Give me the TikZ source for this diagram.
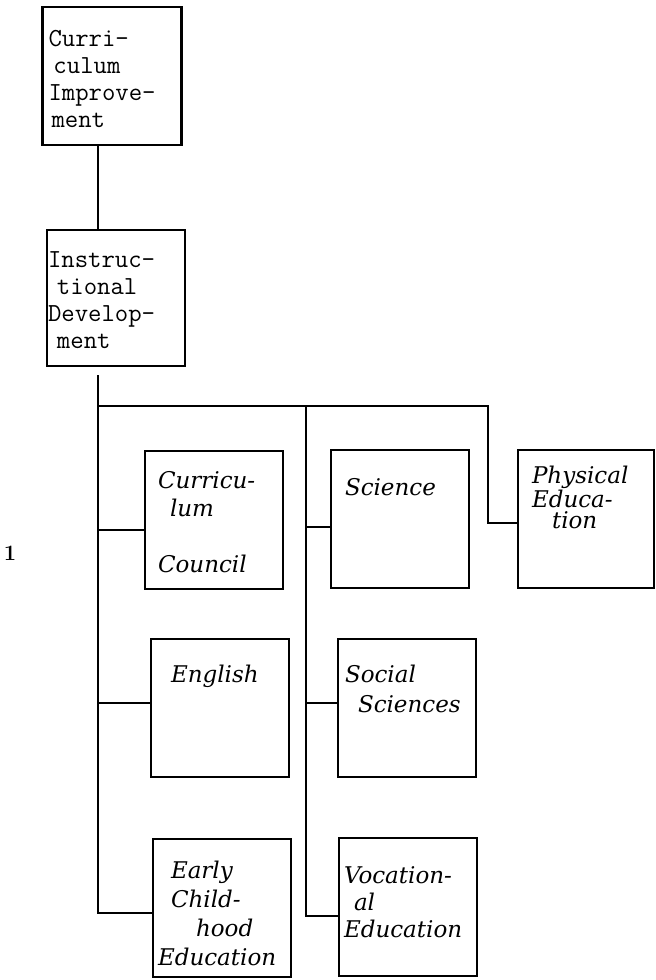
\documentclass[tikz,border=0pt]{standalone}
\usepackage{fontspec}
\usetikzlibrary{positioning}
\newfontfamily\handfont{DejaVu Serif}

\tikzset{
 box/.style={draw,line width=2.4pt,minimum width=138pt,minimum height=138pt,inner sep=0pt},
 type/.style={inner sep=0pt,align=left,font=\fontsize{26}{27}\selectfont\ttfamily},
 hand/.style={inner sep=0pt,align=left,font=\fontsize{23}{28}\selectfont\handfont\itshape},
 link/.style={line width=2.4pt}}

\begin{document}
\begin{tikzpicture}[x=1pt,y=1pt]
 \useasboundingbox (0,0) rectangle (656,-980);
 % trunk points
 \coordinate (t0) at (98,-375);
 \coordinate (t1) at (98,-406);
 \coordinate (t2) at (306,-406);
 \coordinate (t3) at (488,-406);
 % boxes
 \node[box,minimum width=139pt] (ci) at (112,-76) {};
 \node[box,minimum height=136pt] (id) at (116,-298) {};
 \node[box] (cc) at (214,-520) {};
 \node[box] (sci) at (400,-519) {};
 \node[box,minimum width=136pt] (pe) at (586,-519) {};
 \node[box] (eng) at (220,-708) {};
 \node[box] (ss) at (407,-708) {};
 \node[box] (ece) at (222,-908) {};
 \node[box] (voc) at (408,-907) {};
 % texts
 \node[type,below right=24pt and 7pt of ci.north west] (ci-t) {Curri-\\\hspace{5pt}culum\\Improve-\\\hspace{3pt}ment};
 \node[type,below right=23pt and 2pt of id.north west] (id-t) {Instruc-\\\hspace{9pt}tional\\Develop-\\\hspace{9pt}ment};
 \node[hand,below right=21pt and 14pt of cc.north west] (cc-t) {Curricu-\\\hspace{12pt}lum\\[28pt]Council};
 \node[hand,below right=29pt and 15pt of sci.north west] (sci-t) {Science};
 \node[hand,below right=17pt and 15pt of pe.north west,font=\fontsize{23}{21}\selectfont\handfont\itshape] (pe-t) {Physical\\Educa-\\\hspace{20pt}tion};
 \node[hand,below right=27pt and 21pt of eng.north west] (eng-t) {English};
 \node[hand,below right=27pt and 8pt of ss.north west,font=\fontsize{23}{30}\selectfont\handfont\itshape] (ss-t) {Social\\\hspace{13pt}Sciences};
 \node[hand,below right=23pt and 6pt of ece.north west,font=\fontsize{23}{29}\selectfont\handfont\itshape] (ece-t) {\hspace{13pt}Early\\\hspace{13pt}Child-\\\hspace{38pt}hood\\Education};
 \node[hand,below right=30pt and 6pt of voc.north west,font=\fontsize{23}{27}\selectfont\handfont\itshape] (voc-t) {Vocation-\\\hspace{10pt}al\\Education};
 \node[font=\fontsize{22}{22}\selectfont\bfseries] (mark) at (10,-553) {1};
 % connectors
 \draw[link] (ci.south -| t1) -- (id.north -| t1);
 \draw[link] (t0) -- (t1) -- (t3) |- ([yshift=-4pt]pe.west);
 \draw[link] ([yshift=-10pt]cc.west) -| (t1);
 \draw[link] ([yshift=5pt]eng.west) -| (t1);
 \draw[link] ([yshift=-5pt]ece.west) -| (t1);
 \draw[link] ([yshift=-8pt]sci.west) -| (t2);
 \draw[link] ([yshift=5pt]ss.west) -| (t2);
 \draw[link] ([yshift=-9pt]voc.west) -| (t2);
\end{tikzpicture}
\end{document}
